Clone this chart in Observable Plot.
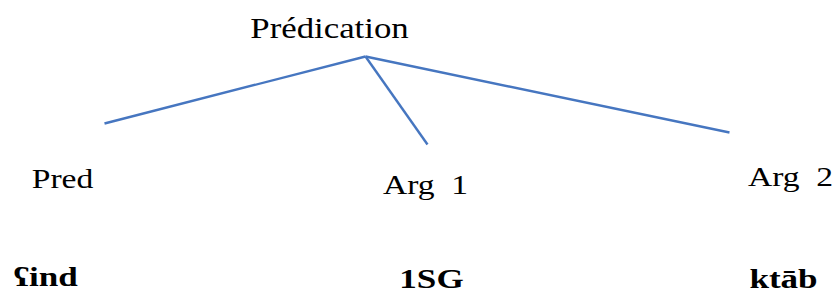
<!DOCTYPE html>
<html>
<head>
<meta charset="utf-8">
<script src="https://cdn.jsdelivr.net/npm/d3@7"></script>
<script src="https://cdn.jsdelivr.net/npm/@observablehq/plot@0.6"></script>
<style>
  html, body { margin: 0; padding: 0; background: #fff; }
</style>
</head>
<body>
<div id="chart"></div>
<script>
// Diagram data (diagram coordinate space 0..834 by 0..293)
const rootLabel = "Prédication";
const rootPos = [329, 37];
const apex = [365, 56];
const childLabels = ["Pred", "Arg\u00a0\u00a01", "Arg\u00a0\u00a02"];
const childX = [62, 425, 790];
const childY = [187, 193, 185];
const branchEndX = [104, 427, 729];
const branchEndY = [123, 144, 132];
const glossLabels = ["ʕind", "1SG", "ktāb"];
const glossX = [45, 431, 783];
const glossY = [285, 287, 287];

const branches = branchEndX.map((x, i) => ({x1: apex[0], y1: apex[1], x2: x, y2: branchEndY[i]}));
const children = childLabels.map((t, i) => ({t, x: childX[i], y: childY[i]}));
const glosses = glossLabels.map((t, i) => ({t, x: glossX[i], y: glossY[i]}));

const chart = Plot.plot({
  width: 834,
  height: 293,
  margin: 0,
  x: {domain: [0, 834], axis: null},
  y: {domain: [293, 0], axis: null},
  style: {background: "#fff", fontFamily: "'Liberation Serif', 'Times New Roman', serif"},
  marks: [
    Plot.link(branches, {x1: "x1", y1: "y1", x2: "x2", y2: "y2", stroke: "#4676c0", strokeWidth: 2.4}),
    Plot.text([{t: rootLabel, x: rootPos[0], y: rootPos[1]}], {x: "x", y: "y", text: "t", fontSize: 29, lineAnchor: "bottom", fill: "#000", className: "normal"}),
    Plot.text(children, {x: "x", y: "y", text: "t", fontSize: 28, lineAnchor: "bottom", fill: "#000", className: "normal"}),
    Plot.text(glosses, {x: "x", y: "y", text: "t", fontSize: 27, fontWeight: "bold", lineAnchor: "bottom", fill: "#000", className: "bold"})
  ]
});
// Horizontal stretch of the glyphs, as in the reference image
const stretch = {normal: 1.2, bold: 1.3};
for (const [cls, k] of Object.entries(stretch)) {
  d3.select(chart).selectAll(`g.${cls} text`).each(function() {
    const t = this.getAttribute("transform") || "";
    this.setAttribute("transform", `${t} scale(${k},1)`);
  });
}
document.getElementById("chart").appendChild(chart);
</script>
</body>
</html>
